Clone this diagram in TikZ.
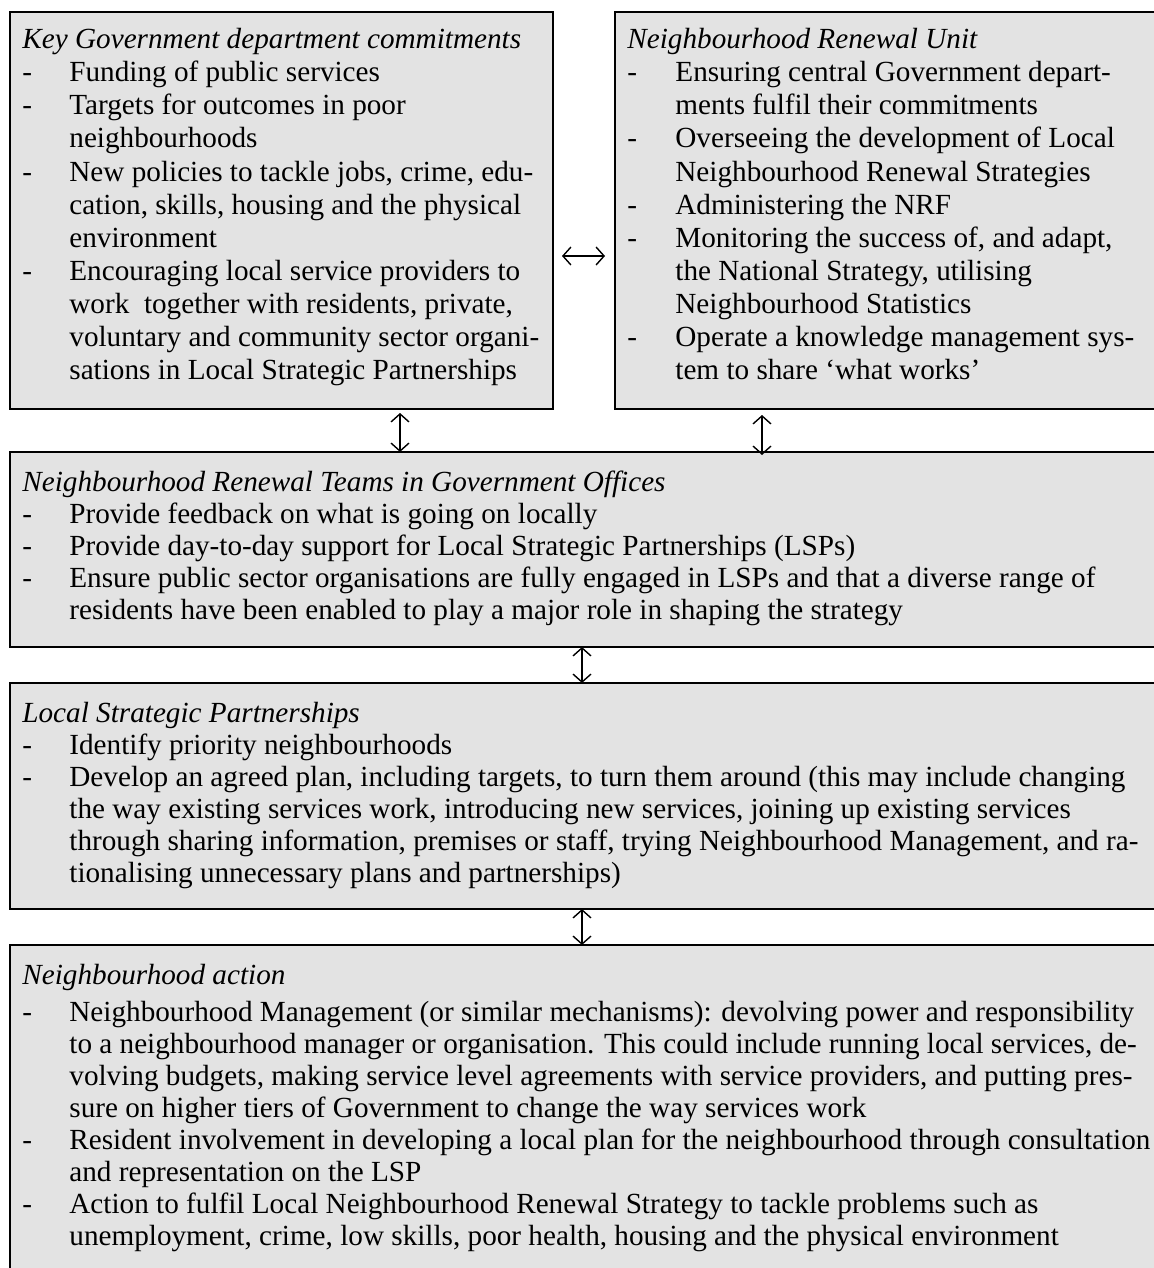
\documentclass[tikz,border=0pt]{standalone}
\usepackage{fontspec}
\setmainfont{Liberation Serif}
\usetikzlibrary{arrows.meta}
\definecolor{boxgray}{RGB}{227,227,227}
\newcommand\fs{\fontsize{14.6pt}{16pt}\selectfont}
\begin{document}
\begin{tikzpicture}[x=0.5pt,y=-0.5pt,
  box/.style={draw=black, line width=1pt, fill=boxgray, inner sep=0pt, outer sep=0pt, anchor=north west},
  ln/.style={anchor=base west, inner sep=0pt, font=\fs},
  ttl/.style={ln, font=\fs\itshape},
  dbl/.style={{Straight Barb[length=4pt,width=9pt]}-{Straight Barb[length=4pt,width=9pt]}, line width=0.7pt}]
\useasboundingbox (0,0) rectangle (1154,1268);
\clip (0,0) rectangle (1154,1268);
% boxes
\node[box, minimum width=271.5pt, minimum height=198.5pt] (kgd) at (10,12) {};
\node[box, minimum width=275pt, minimum height=198.5pt] (nru) at (615,12) {};
\node[box, minimum width=577.5pt, minimum height=97.5pt] (nrt) at (10,452) {};
\node[box, minimum width=577.5pt, minimum height=113pt] (lsp) at (10,683) {};
\node[box, minimum width=577.5pt, minimum height=170pt] (nac) at (10,945) {};
% box 1
\node[ttl] (Atitle) at (22,49) {Key Government department commitments};
\foreach \y/\d/\t in {
  82/1/{Funding of public services},
  115/1/{Targets for outcomes in poor},
  148/0/{neighbourhoods},
  181/1/{New policies to tackle jobs, crime, edu-},
  214/0/{cation, skills, housing and the physical},
  247/0/{environment},
  280/1/{Encouraging local service providers to},
  313/0/{work\ \ together with residents, private,},
  346/0/{voluntary and community sector organi-},
  379/0/{sations in Local Strategic Partnerships}}{
  \node[ln] (A\y) at (69,\y) {\t};
  \ifnum\d=1 \node[ln] (AD\y) at (22,\y) {-};\fi
}
% box 2
\node[ttl] (Btitle) at (627,49) {Neighbourhood Renewal Unit};
\foreach \y/\d/\t in {
  82/1/{Ensuring central Government depart-},
  115/0/{ments fulfil their commitments},
  148/1/{Overseeing the development of Local},
  181/0/{Neighbourhood Renewal Strategies},
  214/1/{Administering the NRF},
  247/1/{Monitoring the success of, and adapt,},
  280/0/{the National Strategy, utilising},
  313/0/{Neighbourhood Statistics},
  346/1/{Operate a knowledge management sys-},
  379/0/{tem to share ‘what works’}}{
  \node[ln] (B\y) at (675,\y) {\t};
  \ifnum\d=1 \node[ln] (BD\y) at (627,\y) {-};\fi
}
% box 3
\node[ttl] (Ctitle) at (22,491) {Neighbourhood Renewal Teams in Government Offices};
\foreach \y/\d/\t in {
  523/1/{Provide feedback on what is going on locally},
  555/1/{Provide day-to-day support for Local Strategic Partnerships (LSPs)},
  587/1/{Ensure public sector organisations are fully engaged in LSPs and that a diverse range of},
  619/0/{residents have been enabled to play a major role in shaping the strategy}}{
  \node[ln] (C\y) at (69,\y) {\t};
  \ifnum\d=1 \node[ln] (CD\y) at (22,\y) {-};\fi
}
% box 4
\node[ttl] (Dtitle) at (22,722) {Local Strategic Partnerships};
\foreach \y/\d/\t in {
  754/1/{Identify priority neighbourhoods},
  786/1/{Develop an agreed plan, including targets, to turn them around (this may include changing},
  818/0/{the way existing services work, introducing new services, joining up existing services},
  850/0/{through sharing information, premises or staff, trying Neighbourhood Management, and ra-},
  882/0/{tionalising unnecessary plans and partnerships)}}{
  \node[ln] (D\y) at (69,\y) {\t};
  \ifnum\d=1 \node[ln] (DD\y) at (22,\y) {-};\fi
}
% box 5
\node[ttl] (Etitle) at (22,984) {Neighbourhood action};
\foreach \y/\d/\t in {
  1021/1/{Neighbourhood Management (or similar mechanisms): devolving power and responsibility},
  1053/0/{to a neighbourhood manager or organisation. This could include running local services, de-},
  1085/0/{volving budgets, making service level agreements with service providers, and putting pres-},
  1117/0/{sure on higher tiers of Government to change the way services work},
  1149/1/{Resident involvement in developing a local plan for the neighbourhood through consultation},
  1181/0/{and representation on the LSP},
  1213/1/{Action to fulfil Local Neighbourhood Renewal Strategy to tackle problems such as},
  1245/0/{unemployment, crime, low skills, poor health, housing and the physical environment}}{
  \node[ln] (E\y) at (69,\y) {\t};
  \ifnum\d=1 \node[ln] (ED\y) at (22,\y) {-};\fi
}
% connectors
\coordinate (h1) at (562,256);
\coordinate (h2) at (605,256);
\draw[dbl] (h1) -- (h2);
\coordinate (v1a) at (400,413);
\coordinate (v1b) at (400,452);
\draw[dbl] (v1a) -- (v1b);
\coordinate (v2a) at (762,415);
\coordinate (v2b) at (762,455);
\draw[dbl] (v2a) -- (v2b);
\coordinate (v3a) at (582,647);
\coordinate (v3b) at (582,683);
\draw[dbl] (v3a) -- (v3b);
\coordinate (v4a) at (582,909);
\coordinate (v4b) at (582,945);
\draw[dbl] (v4a) -- (v4b);
\end{tikzpicture}
\end{document}
